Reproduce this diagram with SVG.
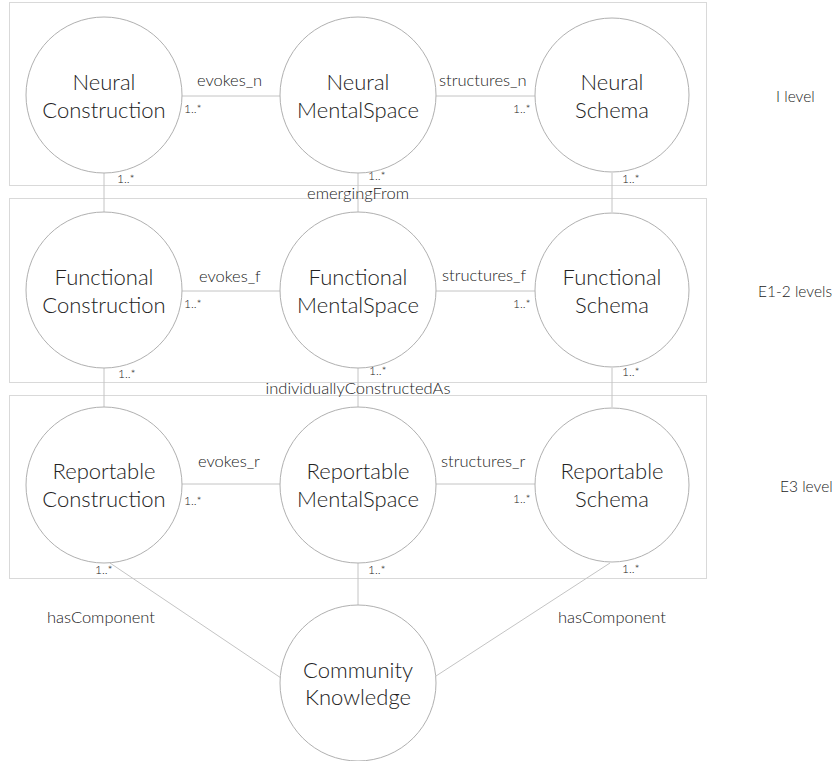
<svg xmlns="http://www.w3.org/2000/svg" width="835" height="761" viewBox="0 0 835 761">
<style>
.box{fill:none;stroke:#d9d9d9;stroke-width:1}
.node{fill:#fff;stroke:#b0b0b0;stroke-width:1}
.edge{fill:none;stroke:#c4c4c4;stroke-width:1}
text{font-family:Lato,"Liberation Sans",sans-serif;fill:#222;font-weight:300}
.nt{font-size:22px;text-anchor:middle}
.lb{font-size:16.5px}
.m{font-size:12px}
.lv{font-size:15.5px}
</style>
<rect width="835" height="761" fill="#fff"/>
<g id="levels">
<rect class="box" x="9.5" y="2.5" width="697" height="183"/>
<rect class="box" x="9.5" y="198.5" width="697" height="184"/>
<rect class="box" x="9.5" y="395.5" width="697" height="183"/>
<text class="lv" x="776" y="102">I level</text>
<text class="lv" x="758" y="297">E1-2 levels</text>
<text class="lv" x="780" y="492">E3 level</text>
</g>
<g id="connectors">
<line class="edge" x1="182" y1="96" x2="280" y2="96"/>
<line class="edge" x1="436" y1="96" x2="535" y2="96"/>
<line class="edge" x1="182" y1="291" x2="280" y2="291"/>
<line class="edge" x1="436" y1="291" x2="535" y2="291"/>
<line class="edge" x1="182" y1="484" x2="280" y2="484"/>
<line class="edge" x1="436" y1="484" x2="535" y2="484"/>
<line class="edge" x1="104" y1="173" x2="104" y2="212"/>
<line class="edge" x1="358" y1="173" x2="358" y2="212"/>
<line class="edge" x1="612" y1="173" x2="612" y2="212"/>
<line class="edge" x1="104" y1="368" x2="104" y2="407"/>
<line class="edge" x1="358" y1="368" x2="358" y2="407"/>
<line class="edge" x1="612" y1="368" x2="612" y2="407"/>
<line class="edge" x1="358" y1="563" x2="358" y2="605"/>
<line class="edge" x1="110" y1="563" x2="281" y2="678"/>
<line class="edge" x1="610" y1="563" x2="436" y2="676"/>
<text class="lb" x="197" y="86">evokes_n</text>
<text class="lb" x="439" y="86">structures_n</text>
<text class="lb" x="199" y="282">evokes_f</text>
<text class="lb" x="442" y="281">structures_f</text>
<text class="lb" x="198" y="467">evokes_r</text>
<text class="lb" x="441" y="467">structures_r</text>
<text class="lb" x="358" y="199" text-anchor="middle">emergingFrom</text>
<text class="lb" x="358" y="394" text-anchor="middle">individuallyConstructedAs</text>
<text class="lb" x="47" y="623">hasComponent</text>
<text class="lb" x="558" y="623">hasComponent</text>
<text class="m" x="184" y="113">1..*</text>
<text class="m" x="513" y="113">1..*</text>
<text class="m" x="184" y="308">1..*</text>
<text class="m" x="513" y="308">1..*</text>
<text class="m" x="184" y="505">1..*</text>
<text class="m" x="513" y="503">1..*</text>
<text class="m" x="117" y="183">1..*</text>
<text class="m" x="368" y="180">1..*</text>
<text class="m" x="622" y="183">1..*</text>
<text class="m" x="118" y="378">1..*</text>
<text class="m" x="369" y="375">1..*</text>
<text class="m" x="622" y="376">1..*</text>
<text class="m" x="95" y="574">1..*</text>
<text class="m" x="368" y="574">1..*</text>
<text class="m" x="622" y="573">1..*</text>
</g>
<g id="neural-construction"><circle class="node" cx="104" cy="95" r="78"/><text class="nt" x="104" y="90">Neural</text><text class="nt" x="104" y="118">Construction</text></g>
<g id="neural-mentalspace"><circle class="node" cx="358" cy="95" r="78"/><text class="nt" x="358" y="90">Neural</text><text class="nt" x="358" y="118">MentalSpace</text></g>
<g id="neural-schema"><circle class="node" cx="612" cy="95" r="77"/><text class="nt" x="612" y="90">Neural</text><text class="nt" x="612" y="118">Schema</text></g>
<g id="functional-construction"><circle class="node" cx="104" cy="290" r="78"/><text class="nt" x="104" y="285">Functional</text><text class="nt" x="104" y="313">Construction</text></g>
<g id="functional-mentalspace"><circle class="node" cx="358" cy="290" r="78"/><text class="nt" x="358" y="285">Functional</text><text class="nt" x="358" y="313">MentalSpace</text></g>
<g id="functional-schema"><circle class="node" cx="612" cy="290" r="77"/><text class="nt" x="612" y="285">Functional</text><text class="nt" x="612" y="313">Schema</text></g>
<g id="reportable-construction"><circle class="node" cx="104" cy="485" r="78"/><text class="nt" x="104" y="479">Reportable</text><text class="nt" x="104" y="507">Construction</text></g>
<g id="reportable-mentalspace"><circle class="node" cx="358" cy="485" r="78"/><text class="nt" x="358" y="479">Reportable</text><text class="nt" x="358" y="507">MentalSpace</text></g>
<g id="reportable-schema"><circle class="node" cx="612" cy="485" r="77"/><text class="nt" x="612" y="479">Reportable</text><text class="nt" x="612" y="507">Schema</text></g>
<g id="community-knowledge"><circle class="node" cx="358" cy="683" r="78"/><text class="nt" x="358" y="678">Community</text><text class="nt" x="358" y="705">Knowledge</text></g>
</svg>
